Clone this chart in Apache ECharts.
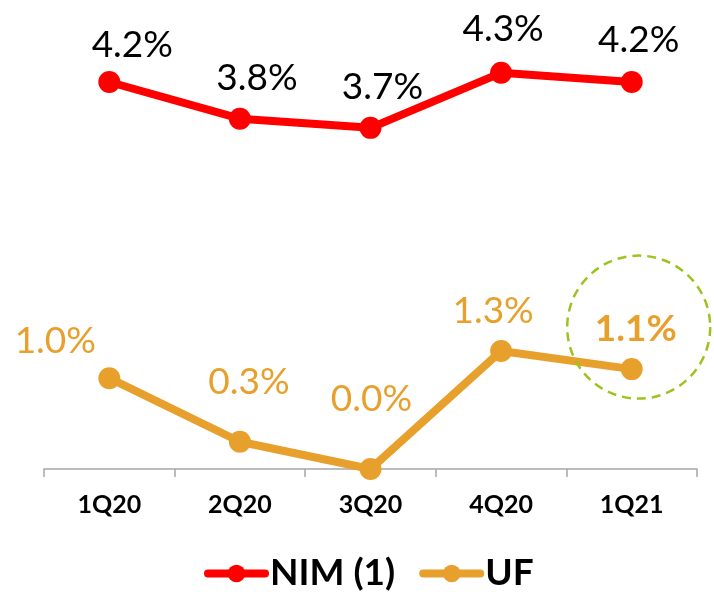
<!DOCTYPE html>
<html>
<head>
<meta charset="utf-8">
<script src="https://cdn.jsdelivr.net/npm/echarts@6/dist/echarts.min.js"></script>
<style>
    html, body { margin: 0; padding: 0; background: #fff; }
    #container { width: 714px; height: 592px; }
</style>
</head>
<body>
<div id="container"></div>
<script>
// 数据
var quarters = ['1Q20', '2Q20', '3Q20', '4Q20', '1Q21']
var nimValues = [4.2, 3.8, 3.7, 4.3, 4.2]
var ufValues = [1.0, 0.3, 0.0, 1.3, 1.1]
var seriesNames = ['NIM (1)', 'UF']

var red = '#FF0000'
var orange = '#E8A02C'
var green = '#9DC31F'
var font = 'Lato'

var pct = function (p) {
    return p.value.toFixed(1) + '%'
}

// 每个标签的偏移, 对着原图调的
var nimLabelOffset = [[23, -2], [17, -6], [12, -6], [2, -9], [7, -7]]
var ufLabelOffset = [[-54, -3], [9, -25], [1, -35], [-8, -5], [4, -6]]

var buildItems = function (values, offsets, boldLast) {
    var items = []
    for (let i = 0; i < values.length; i++) {
        let o = {
            value: values[i],
            label: { offset: offsets[i] },
        }
        if (boldLast && i == values.length - 1) {
            o.label.fontWeight = 'bold'
        }
        items.push(o)
    }
    return items
}

const chartInit = function () {
    var myChart = echarts.init(document.getElementById('container'))

    var option = {
        animation: false,
        grid: { left: 44, right: 17, top: 20, bottom: 123 },
        legend: {
            top: 550,
            left: 199,
            itemWidth: 57,
            itemHeight: 22,
            itemGap: 24,
            lineStyle: { width: 8, cap: 'round' },
            textStyle: { fontFamily: font, fontWeight: 'bold', fontSize: 37, color: '#000' },
            data: seriesNames,
        },
        xAxis: {
            type: 'category',
            data: quarters,
            axisLine: { lineStyle: { color: '#A6A6A6', width: 1.5 } },
            axisTick: { show: true, length: 8, lineStyle: { color: '#A6A6A6', width: 1.5 } },
            axisLabel: { fontFamily: font, fontWeight: 'bold', fontSize: 25, color: '#000', margin: 23 },
        },
        yAxis: [
            { type: 'value', min: 0, max: 4.945, show: false, splitLine: { show: false } },
            { type: 'value', min: -0.02, max: 4.876, show: false, splitLine: { show: false } },
        ],
        series: [
            {
                name: seriesNames[0],
                type: 'line',
                yAxisIndex: 1,
                data: buildItems(nimValues, nimLabelOffset, false),
                symbol: 'circle',
                symbolSize: 22,
                itemStyle: { color: red },
                lineStyle: { color: red, width: 8 },
                label: {
                    show: true,
                    position: 'top',
                    distance: 5,
                    formatter: pct,
                    fontFamily: font,
                    fontSize: 37,
                    color: '#000',
                },
            },
            {
                name: seriesNames[1],
                type: 'line',
                yAxisIndex: 0,
                data: buildItems(ufValues, ufLabelOffset, true),
                symbol: 'circle',
                symbolSize: 22,
                itemStyle: { color: orange },
                lineStyle: { color: orange, width: 8 },
                label: {
                    show: true,
                    position: 'top',
                    distance: 5,
                    formatter: pct,
                    fontFamily: font,
                    fontSize: 37,
                    color: orange,
                },
                // 最后一个点的虚线圈
                markPoint: {
                    silent: true,
                    symbol: 'circle',
                    symbolSize: 143,
                    symbolOffset: [7, -42],
                    itemStyle: {
                        color: 'rgba(0,0,0,0)',
                        borderColor: green,
                        borderWidth: 2.5,
                        borderType: [9, 6],
                    },
                    label: { show: false },
                    data: [{ coord: [quarters[4], ufValues[4]] }],
                },
            },
        ],
    }

    myChart.setOption(option, true)
}

chartInit()
</script>
</body>
</html>
